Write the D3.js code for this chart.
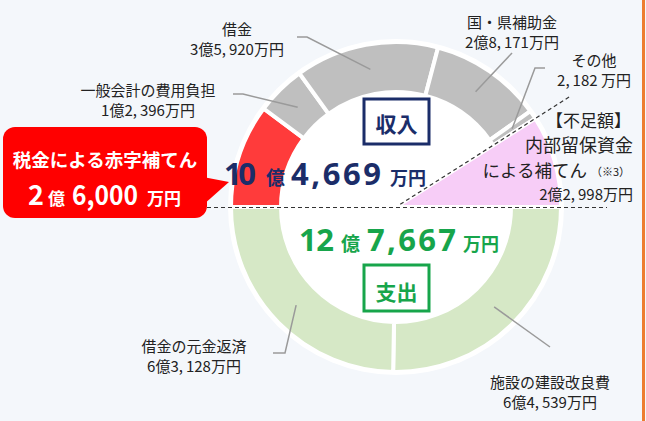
<!DOCTYPE html>
<html>
<head>
<meta charset="utf-8">
<script src="https://cdn.jsdelivr.net/npm/d3@7"></script>
<style>
  body { margin: 0; background: #f4f7fb; }
  svg { display: block; }
  text { font-family: "Noto Sans CJK JP", "Noto Sans", sans-serif; }
</style>
</head>
<body>
<svg id="svg1" width="646" height="421"></svg>
<script>
// values in 万円
var incomeNames = ['税金による赤字補てん', '一般会計の費用負担', '借金', '国・県補助金', 'その他'];
var incomeValues = [26000, 12396, 35920, 28171, 2182];
var incomeColors = ['#ff3b3b', '#bfbfbf', '#bfbfbf', '#bfbfbf', '#bfbfbf'];
var shortfallLines = ['【不足額】', '内部留保資金', 'による補てん'];
var shortfallValue = 22998;
var expenseNames = ['施設の建設改良費', '借金の元金返済'];
var expenseValues = [64539, 63128];

var width = 646, height = 421;
var cx = 396, cy = 207;
var outerR = 165, innerR = 115;

var svg = d3.select('svg');

svg.append('rect').attr('width', width).attr('height', height).attr('fill', '#f4f7fb');

// right orange border
svg.append('rect').attr('x', 642).attr('y', 0).attr('width', 3).attr('height', height).attr('fill', '#ed7d31');

function fmt(v) {
    var oku = Math.floor(v / 10000), man = d3.format(',')(v % 10000).replace(',', ',\u2009');
    if (!oku) return man + ' 万円';
    return oku + '億' + man + '万円';
}

var g = svg.append('g').attr('transform', 'translate(' + cx + ',' + cy + ')');

var arc = d3.arc().innerRadius(innerR).outerRadius(outerR);
var sector = d3.arc().innerRadius(0).outerRadius(outerR);

// top half: income + shortfall, bottom half: expenses
var topArcs = d3.pie().sort(null).startAngle(-Math.PI / 2).endAngle(Math.PI / 2)(incomeValues.concat([shortfallValue]));
var botArcs = d3.pie().sort(null).startAngle(Math.PI / 2).endAngle(3 * Math.PI / 2)(expenseValues);

g.append('circle').attr('r', outerR + 3).attr('fill', 'white');

g.selectAll('path.inc')
    .data(topArcs.slice(0, incomeValues.length))
    .enter()
    .append('path')
    .attr('class', 'inc')
    .attr('d', arc)
    .attr('fill', function(d, i) { return incomeColors[i]; })
    .attr('stroke', 'white')
    .attr('stroke-width', 4);

g.selectAll('path.exp')
    .data(botArcs)
    .enter()
    .append('path')
    .attr('class', 'exp')
    .attr('d', arc)
    .attr('fill', '#d6e8c6')
    .attr('stroke', 'white')
    .attr('stroke-width', 4);

var shortArc = topArcs[incomeValues.length];
g.append('path')
    .attr('d', sector(shortArc))
    .attr('fill', '#f7cdf7')
    .attr('stroke', 'white')
    .attr('stroke-width', 4);

// dashed guide lines
var a0 = shortArc.startAngle;
g.append('line')
    .attr('x1', 5 * Math.sin(a0)).attr('y1', -5 * Math.cos(a0))
    .attr('x2', 205 * Math.sin(a0)).attr('y2', -205 * Math.cos(a0))
    .attr('stroke', '#333').attr('stroke-width', 1.2).attr('stroke-dasharray', '4,3');

svg.append('line')
    .attr('x1', 207).attr('x2', 607)
    .attr('y1', cy + 0.5).attr('y2', cy + 0.5)
    .attr('stroke', '#333').attr('stroke-width', 1.2).attr('stroke-dasharray', '4,3');

// leader lines + labels (label anchor points are layout, end points from arc centroids)
var labelSpecs = [
    {arc: topArcs[1], name: incomeNames[1], value: incomeValues[1], x: 148, y: 96, pts: [[233, 94], [243, 94]]},
    {arc: topArcs[2], name: incomeNames[2], value: incomeValues[2], x: 237, y: 35, pts: [[297, 37], [307, 37]]},
    {arc: topArcs[3], name: incomeNames[3], value: incomeValues[3], x: 512, y: 28, pts: [[512, 53]]},
    {arc: topArcs[4], name: incomeNames[4], value: incomeValues[4], x: 594, y: 66, pts: [[545, 68], [535, 68]]},
    {arc: botArcs[0], name: expenseNames[0], value: expenseValues[0], x: 550, y: 388, pts: [[550, 347]]},
    {arc: botArcs[1], name: expenseNames[1], value: expenseValues[1], x: 194, y: 352, pts: [[273, 353], [285, 353]]}
];

var line = d3.line();
labelSpecs.forEach(function(s) {
    var c = arc.centroid(s.arc);
    var pts = s.pts.concat([[c[0] + cx, c[1] + cy]]);
    svg.append('path')
        .attr('d', line(pts))
        .attr('fill', 'none')
        .attr('stroke', '#9a9a9a')
        .attr('stroke-width', 1.5);
    var t = svg.append('text')
        .attr('text-anchor', 'middle')
        .attr('font-size', 15)
        .attr('fill', '#222');
    t.append('tspan').attr('x', s.x).attr('y', s.y).text(s.name);
    t.append('tspan').attr('x', s.x).attr('y', s.y + 20).text(fmt(s.value));
});

// shortfall label
var st = svg.append('text').attr('text-anchor', 'end').attr('fill', '#222');
st.append('tspan').attr('x', 631).attr('y', 127).attr('font-size', 17).text(shortfallLines[0]);
st.append('tspan').attr('x', 633).attr('y', 152).attr('font-size', 18).text(shortfallLines[1]);
var l3 = st.append('tspan').attr('x', 630).attr('y', 177);
l3.append('tspan').attr('font-size', 17.5).text(shortfallLines[2]);
l3.append('tspan').attr('font-size', 11).attr('dx', 4).attr('dy', -1).text('（※3）');
st.append('tspan').attr('x', 633).attr('y', 200).attr('font-size', 15).text(fmt(shortfallValue));

// totals
function totalText(v, xs, lens, y, color) {
    var oku = String(Math.floor(v / 10000)), man = d3.format(',')(v % 10000);
    var parts = [[oku, 31], ['億', 19], [man, 31], ['万円', 18]];
    parts.forEach(function(p, i) {
        var t = svg.append('text')
            .attr('x', xs[i]).attr('y', y)
            .attr('font-size', p[1])
            .attr('font-weight', 'bold')
            .attr('fill', color)
            .style('font-family', i % 2 ? '"Noto Sans CJK JP"' : '"Noto Sans", sans-serif')
            .text(p[0]);
        if (lens[i]) t.attr('textLength', lens[i]).attr('lengthAdjust', 'spacing');
    });
}
totalText(d3.sum(incomeValues), [224, 266, 291, 390], [32, 0, 90, 0], 185, '#1b2d69');
totalText(d3.sum(expenseValues), [299, 341, 367, 463], [35, 0, 89, 0], 251, '#17a54b');

// boxes
svg.append('rect').attr('x', 364).attr('y', 99).attr('width', 65).attr('height', 45)
    .attr('fill', 'white').attr('stroke', '#1b2d69').attr('stroke-width', 3);
svg.append('text').attr('x', 396.5).attr('y', 132).attr('text-anchor', 'middle')
    .attr('font-size', 21).attr('font-weight', 'bold').attr('fill', '#1b2d69').text('収入');

svg.append('rect').attr('x', 364).attr('y', 265).attr('width', 65).attr('height', 46)
    .attr('fill', 'white').attr('stroke', '#17a54b').attr('stroke-width', 3);
svg.append('text').attr('x', 396.5).attr('y', 300).attr('text-anchor', 'middle')
    .attr('font-size', 21).attr('font-weight', 'bold').attr('fill', '#17a54b').text('支出');

// red callout
svg.append('path')
    .attr('d', 'M203,177 L229,182 L203,205 Z')
    .attr('fill', '#ff0000');
svg.append('rect').attr('x', 3).attr('y', 127).attr('width', 204).attr('height', 91).attr('rx', 12)
    .attr('fill', '#ff0000');
svg.append('text').attr('x', 105).attr('y', 167).attr('text-anchor', 'middle')
    .attr('font-size', 18.5).attr('font-weight', 'bold').attr('fill', 'white').text(incomeNames[0]);
var redOku = String(Math.floor(incomeValues[0] / 10000)), redMan = d3.format(',')(incomeValues[0] % 10000);
[[redOku, 27, 28, 0], ['億', 17, 48, 0], [redMan, 27, 72, 66], ['万円', 17, 147, 0]].forEach(function(p) {
    var t = svg.append('text').attr('x', p[2]).attr('y', 205)
        .attr('font-size', p[1]).attr('font-weight', 'bold').attr('fill', 'white').text(p[0]);
    if (p[3]) t.attr('textLength', p[3]).attr('lengthAdjust', 'spacingAndGlyphs');
});
</script>
</body>
</html>
